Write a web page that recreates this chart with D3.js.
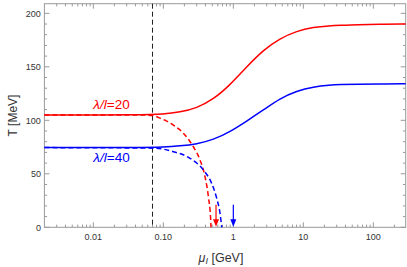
<html>
<head>
  <meta charset="utf-8">
  <script src="https://cdn.jsdelivr.net/npm/d3@7"></script>
  <style>
    body { margin: 0; background: #fff; }
    text { font-family: "Liberation Sans", Arial, sans-serif; fill: #333; }
  </style>
</head>
<body>
  <script>
    // size of the picture
    const w = 407;
    const h = 267;

    // solid curves (mu in GeV, T in MeV)
    const muRed = [0.002, 0.05, 0.1, 0.173, 0.30, 0.518, 0.897, 1.55, 2.68, 4.64, 8.05, 13.9, 24, 33.4, 60, 120, 290];
    const tRed = [105, 105, 105.6, 107.6, 111.4, 119.5, 133, 150, 165.7, 176.6, 183.5, 187, 188.4, 188.8, 189.5, 189.8, 190];
    const muBlue = [0.002, 0.05, 0.1, 0.173, 0.30, 0.518, 0.897, 1.55, 2.68, 4.64, 8.05, 13.9, 24, 33.4, 60, 120, 290];
    const tBlue = [74.5, 74.5, 74.9, 76, 77.8, 81.8, 89.3, 99.3, 109.6, 120.5, 127.4, 131.4, 133, 133.4, 133.8, 134, 134.1];

    // dashed curves
    const muRedDash = [0.002, 0.0464, 0.0706, 0.0898, 0.139, 0.193, 0.268, 0.334, 0.394, 0.44, 0.475, 0.48];
    const tRedDash = [105, 105, 104.5, 102, 95.6, 88, 75.3, 63, 47.3, 28.6, 6.8, 0];
    const muBlueDash = [0.002, 0.072, 0.139, 0.24, 0.373, 0.491, 0.579, 0.646, 0.683];
    const tBlueDash = [74.5, 74, 70.7, 64.5, 53.6, 41, 27, 13, 0];

    // vertical line and arrows
    const muVLine = 0.07;
    const arrowMu = [0.566, 1.0];
    const arrowColors = ["red", "blue"];
    const arrowTop = 21;

    // ticks
    const xTicks = [0.01, 0.1, 1, 10, 100];
    const xTickLabels = ["0.01", "0.10", "1", "10", "100"];
    const yTicks = [0, 50, 100, 150, 200];

    const x = d3.scaleLog().domain([0.002, 290]).range([44.4, 405.7]);
    const y = d3.scaleLinear().domain([0, 209]).range([227.3, 3.7]);

    const svg = d3.select("body").append("svg")
      .attr("width", w)
      .attr("height", h);

    const x0 = x.range()[0], x1 = x.range()[1];
    const y0 = y.range()[0], y1 = y.range()[1];

    // minor x ticks: 2..9 in every decade
    const xMinor = [];
    for (let e = -3; e <= 2; e++) {
      for (let k = 2; k <= 9; k++) {
        const v = k * Math.pow(10, e);
        if (v > 0.002 && v < 290) xMinor.push(v);
      }
    }
    const yMinor = d3.range(0, 210, 10).filter(d => d % 50 !== 0);

    const frame = svg.append("g").attr("stroke", "#999").attr("stroke-width", 1);

    // ticks on all four sides, pointing inwards
    xTicks.forEach(d => {
      frame.append("line").attr("x1", x(d)).attr("x2", x(d)).attr("y1", y0).attr("y2", y0 - 5);
      frame.append("line").attr("x1", x(d)).attr("x2", x(d)).attr("y1", y1).attr("y2", y1 + 5);
    });
    xMinor.forEach(d => {
      frame.append("line").attr("x1", x(d)).attr("x2", x(d)).attr("y1", y0).attr("y2", y0 - 2.7);
      frame.append("line").attr("x1", x(d)).attr("x2", x(d)).attr("y1", y1).attr("y2", y1 + 2.7);
    });
    yTicks.forEach(d => {
      frame.append("line").attr("x1", x0).attr("x2", x0 + 5).attr("y1", y(d)).attr("y2", y(d));
      frame.append("line").attr("x1", x1).attr("x2", x1 - 5).attr("y1", y(d)).attr("y2", y(d));
    });
    yMinor.forEach(d => {
      frame.append("line").attr("x1", x0).attr("x2", x0 + 2.7).attr("y1", y(d)).attr("y2", y(d));
      frame.append("line").attr("x1", x1).attr("x2", x1 - 2.7).attr("y1", y(d)).attr("y2", y(d));
    });

    frame.append("rect")
      .attr("x", x0).attr("y", y1)
      .attr("width", x1 - x0).attr("height", y0 - y1)
      .attr("fill", "none");

    // tick labels
    svg.selectAll(".xl").data(xTicks).enter().append("text")
      .attr("x", d => x(d)).attr("y", y0 + 12.5)
      .attr("text-anchor", "middle").attr("font-size", 9)
      .text((d, i) => xTickLabels[i]);
    svg.selectAll(".yl").data(yTicks).enter().append("text")
      .attr("x", x0 - 3.5).attr("y", d => y(d) + 3.2)
      .attr("text-anchor", "end").attr("font-size", 9)
      .text(d => d);

    // axis titles
    const xt = svg.append("text")
      .attr("x", 221).attr("y", 262)
      .attr("text-anchor", "middle").attr("font-size", 12.5);
    xt.append("tspan").attr("font-style", "italic").text("μ");
    xt.append("tspan").attr("font-style", "italic").attr("font-size", 9).attr("dy", 2).text("I");
    xt.append("tspan").attr("dy", -2).text(" [GeV]");

    svg.append("text")
      .attr("transform", "translate(17," + ((y0 + y1) / 2) + ") rotate(-90)")
      .attr("text-anchor", "middle").attr("font-size", 12)
      .text("T [MeV]");

    // vertical dashed line
    svg.append("line")
      .attr("x1", x(muVLine)).attr("x2", x(muVLine))
      .attr("y1", y1).attr("y2", y0)
      .attr("stroke", "#222").attr("stroke-width", 1)
      .attr("stroke-dasharray", "5,3");

    const lineDash = d3.line()
      .x(d => x(d[0]))
      .y(d => y(d[1]))
      .curve(d3.curveMonotoneX);
    const lineSolid = d3.line()
      .x(d => x(d[0]))
      .y(d => y(d[1]))
      .curve(d3.curveBasis);

    function drawCurve(mu, t, color, dashed) {
      svg.append("path")
        .datum(mu.map((m, i) => [m, t[i]]))
        .attr("d", dashed ? lineDash : lineSolid)
        .attr("fill", "none")
        .attr("stroke", color)
        .attr("stroke-width", 1.5)
        .attr("stroke-dasharray", dashed ? "5,3" : null);
    }

    drawCurve(muRedDash, tRedDash, "red", true);
    drawCurve(muBlueDash, tBlueDash, "blue", true);
    drawCurve(muRed, tRed, "red", false);
    drawCurve(muBlue, tBlue, "blue", false);

    // arrows
    arrowMu.forEach((m, i) => {
      const ax = x(m);
      svg.append("line")
        .attr("x1", ax).attr("x2", ax)
        .attr("y1", y(arrowTop)).attr("y2", y0 - 6)
        .attr("stroke", arrowColors[i]).attr("stroke-width", 1.2);
      svg.append("path")
        .attr("d", "M" + (ax - 3) + "," + (y0 - 8) + "L" + (ax + 3) + "," + (y0 - 8) + "L" + ax + "," + (y0 - 0.5) + "Z")
        .attr("fill", arrowColors[i]);
    });

    // labels
    const lab = [["λ/", "l", "=20", "red", 108.5], ["λ/", "l", "=40", "blue", 162]];
    lab.forEach(d => {
      const t = svg.append("text")
        .attr("x", 111.5).attr("y", d[4])
        .attr("text-anchor", "middle").attr("font-size", 13.5)
        .style("fill", d[3]);
      t.append("tspan").attr("font-style", "italic").text(d[0]);
      t.append("tspan").attr("font-style", "italic").text(d[1]);
      t.append("tspan").text(d[2]);
    });
  </script>
</body>
</html>
